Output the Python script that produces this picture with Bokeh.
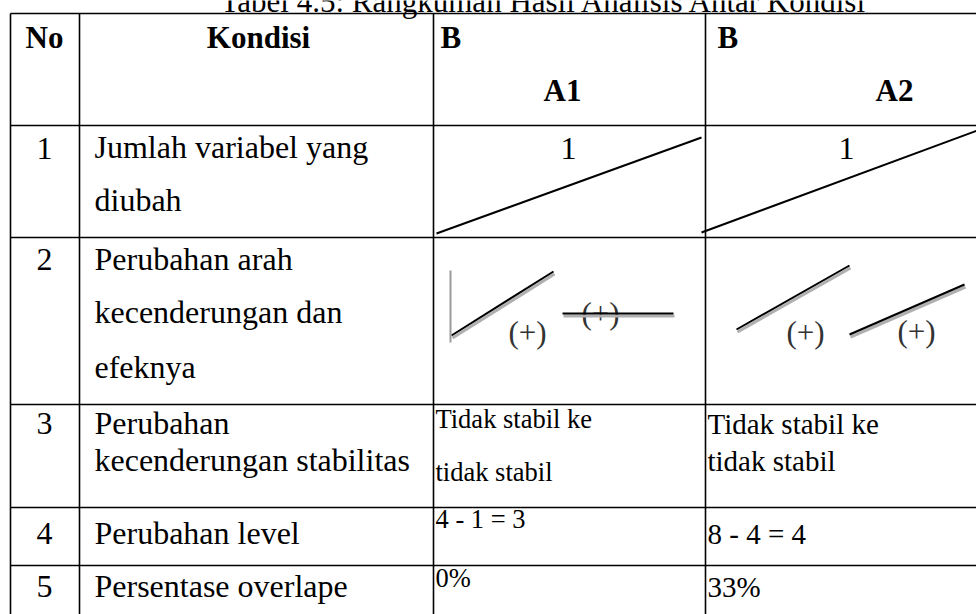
from bokeh.plotting import figure
from bokeh.models import Range1d, ColumnDataSource
from bokeh.core.properties import value
from bokeh.embed import file_html
from bokeh.resources import INLINE

# ---------------- data (table content) ----------------
title = "Tabel 4.5: Rangkuman Hasil Analisis Antar Kondisi"
header_no = "No"
header_kondisi = "Kondisi"
header_phase = ["B", "B"]
header_compare = ["A1", "A2"]
row_numbers = ["1", "2", "3", "4", "5"]
kondisi_lines = [
    ["Jumlah variabel yang", "diubah"],
    ["Perubahan arah", "kecenderungan dan", "efeknya"],
    ["Perubahan", "kecenderungan stabilitas"],
    ["Perubahan level"],
    ["Persentase overlape"],
]
jumlah_variabel = ["1", "1"]
efek_tanda = [["(+)", "(+)"], ["(+)", "(+)"]]
stabilitas_A1 = ["Tidak stabil ke", "tidak stabil"]
stabilitas_A2 = ["Tidak stabil ke", "tidak stabil"]
level_values = ["4 - 1 = 3", "8 - 4 = 4"]
overlap_values = ["0%", "33%"]

# ---------------- layout (pixel coordinates of the page) ----------------
W, H = 976, 614
col_x = [10, 79, 433, 705]
row_y = [13, 125, 237, 404, 507, 565]
BASE_SHIFT = 0.35  # text anchor sits this many em above the glyph baseline

FONT = value("Liberation Serif")
p = figure(width=W, height=H, output_backend="svg", toolbar_location=None,
           x_range=Range1d(0, W), y_range=Range1d(H, 0), min_border=0,
           border_fill_color="white", background_fill_color="white")
p.axis.visible = False
p.grid.visible = False
p.outline_line_color = None

# grid lines
hx0, hx1, hy = [], [], []
for y in row_y:
    hx0.append(col_x[0]); hx1.append(W); hy.append(y)
p.segment(x0=hx0, y0=hy, x1=hx1, y1=hy, line_color="black", line_width=1.6)
p.segment(x0=col_x, y0=[row_y[0]] * len(col_x), x1=col_x, y1=[H] * len(col_x),
          line_color="black", line_width=1.6)

texts = []  # (text, x, baseline, size, style, align, color)
def T(t, x, b, size=32, style="normal", align="left", color="black"):
    texts.append((t, x, b - BASE_SHIFT * size, size, style, align, color))

T(title, 544, 11.5, 31, align="center")
T(header_no, 25, 48, 31, "bold")
T(header_kondisi, 258, 48, 31, "bold", "center")
T(header_phase[0], 440, 48, 31, "bold")
T(header_compare[0], 543, 101, 31, "bold")
T(header_phase[1], 717, 48, 31, "bold")
T(header_compare[1], 875, 101, 31, "bold")

no_baselines = [159, 270, 434, 544, 597]
kondisi_baselines = [[158, 211], [270, 323, 378], [434, 471], [544], [597]]
for i, n in enumerate(row_numbers):
    T(n, 44, no_baselines[i], 32, align="center")
    for line, yb in zip(kondisi_lines[i], kondisi_baselines[i]):
        T(line, 94, yb, 32)

T(jumlah_variabel[0], 568, 159, 32, align="center")
T(jumlah_variabel[1], 846, 159, 32, align="center")

T(efek_tanda[0][0], 527, 343, 31, align="center", color="#333333")
T(efek_tanda[0][1], 600, 324, 31, align="center", color="#333333")
T(efek_tanda[1][0], 805, 343, 31, align="center", color="#333333")
T(efek_tanda[1][1], 916, 342, 31, align="center", color="#333333")

T(stabilitas_A1[0], 435, 428, 26.5)
T(stabilitas_A1[1], 435, 481, 26.5)
T(stabilitas_A2[0], 707, 434, 29)
T(stabilitas_A2[1], 707, 471, 29)
T(level_values[0], 435, 528, 26.5)
T(level_values[1], 707, 544, 29)
T(overlap_values[0], 435, 587, 26.5)
T(overlap_values[1], 707, 597, 29)

for style in ("normal", "bold"):
    for align in ("left", "center"):
        sub = [t for t in texts if t[4] == style and t[5] == align]
        if not sub:
            continue
        src = ColumnDataSource(dict(
            x=[t[1] for t in sub], y=[t[2] for t in sub], text=[t[0] for t in sub],
            size=[f"{t[3]}px" for t in sub], color=[t[6] for t in sub]))
        p.text(x="x", y="y", text="text", source=src, text_font=FONT,
               text_font_size="size", text_color="color", text_font_style=style,
               text_align=align, text_baseline="alphabetic")

# ---------------- trend drawings ----------------
# row 1: diagonal strokes across the A1 and A2 cells
p.segment(x0=[436, 701], y0=[233, 232], x1=[701, 977], y1=[137, 130],
          line_color="black", line_width=2)
# row 2: trend arrows with grey shadow
tr_x0 = [451, 562, 736, 849]
tr_y0 = [335, 313, 329, 334]
tr_x1 = [553, 673, 849, 964]
tr_y1 = [271, 313, 265, 284]
p.segment(x0=[x + 1 for x in tr_x0], y0=[y + 2.5 for y in tr_y0],
          x1=[x + 1 for x in tr_x1], y1=[y + 2.5 for y in tr_y1],
          line_color="#b0b0b0", line_width=3)
p.segment(x0=tr_x0, y0=tr_y0, x1=tr_x1, y1=tr_y1, line_color="black", line_width=2)
p.segment(x0=[450], y0=[270], x1=[450], y1=[342], line_color="#9a9a9a", line_width=2)

open("out.html", "w").write(file_html(p, INLINE))
